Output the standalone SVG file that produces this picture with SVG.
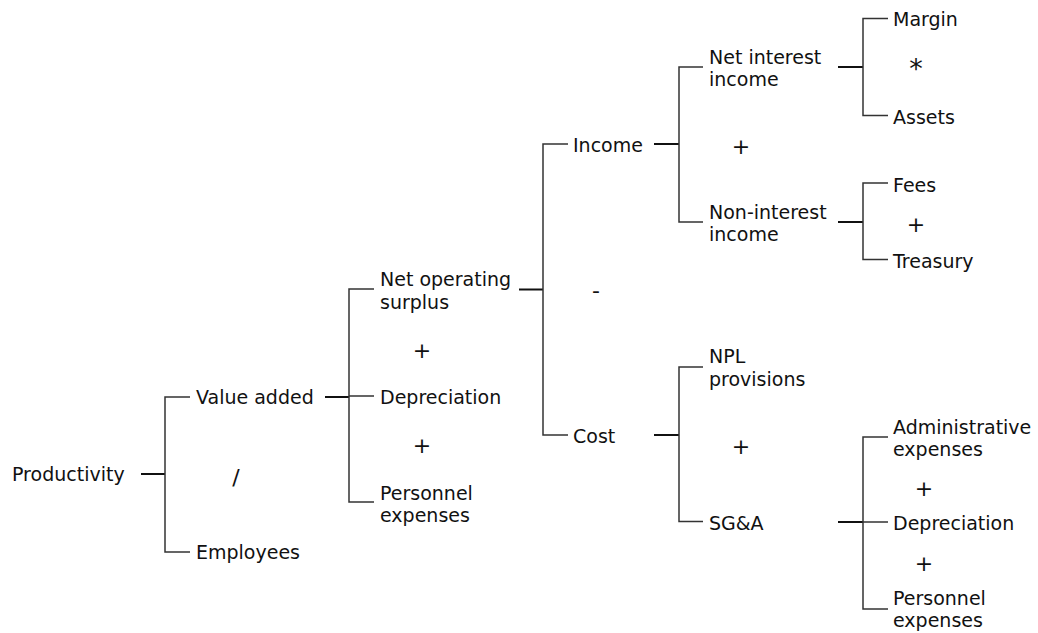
<svg xmlns="http://www.w3.org/2000/svg" width="1038" height="633" viewBox="0 0 1038 633">
<style>
text{font-family:"DejaVu Sans","Noto Sans",sans-serif;font-size:19px;fill:#111}
text.op{text-anchor:middle;font-size:22px}
text.ast{font-size:27px}
.br{fill:none;stroke:#333;stroke-width:1.5}
.pl{fill:none;stroke:#111;stroke-width:2}
</style>
<rect width="1038" height="633" fill="#fff"/>
<g id="connectors">
<path class="pl" d="M141,474H165"/>
<path class="br" d="M190,397H165V552H190"/>
<path class="pl" d="M325,397H349"/>
<path class="br" d="M374,289H349V502H374M349,396H374"/>
<path class="pl" d="M519,289.5H543"/>
<path class="br" d="M568,144H543V435H568"/>
<path class="pl" d="M654,144H679"/>
<path class="br" d="M703,67H679V222H703"/>
<path class="pl" d="M838,67H863"/>
<path class="br" d="M888,18.5H863V115.5H888"/>
<path class="pl" d="M838,222H863"/>
<path class="br" d="M888,183H863V259.5H888"/>
<path class="pl" d="M654,435H679"/>
<path class="br" d="M703,367H679V521.5H703"/>
<path class="pl" d="M838,522H863"/>
<path class="br" d="M888,437H863V609H888M863,522H888"/>
</g>
<g id="productivity"><text x="12" y="481">Productivity</text></g>
<g id="op-div"><text class="op" x="236" y="485">/</text></g>
<g id="value-added"><text x="196" y="404">Value added</text></g>
<g id="employees"><text x="196" y="559">Employees</text></g>
<g id="net-operating-surplus"><text x="380" y="286">Net operating</text><text x="380" y="308.5">surplus</text></g>
<g id="op-plus-1"><text class="op" x="422" y="358.4">+</text></g>
<g id="depreciation-1"><text x="380" y="404">Depreciation</text></g>
<g id="op-plus-2"><text class="op" x="422" y="453.4">+</text></g>
<g id="personnel-expenses-1"><text x="380" y="499.5">Personnel</text><text x="380" y="522">expenses</text></g>
<g id="income"><text x="573" y="152">Income</text></g>
<g id="op-minus"><text class="op" x="596" y="297.7">-</text></g>
<g id="cost"><text x="573" y="443">Cost</text></g>
<g id="net-interest-income"><text x="709" y="63.5">Net interest</text><text x="709" y="86">income</text></g>
<g id="op-plus-3"><text class="op" x="741" y="154.4">+</text></g>
<g id="non-interest-income"><text x="709" y="218.5">Non-interest</text><text x="709" y="241">income</text></g>
<g id="margin"><text x="893" y="26">Margin</text></g>
<g id="op-mul"><text class="op ast" x="916" y="78">*</text></g>
<g id="assets"><text x="893" y="123.5">Assets</text></g>
<g id="fees"><text x="893" y="191.5">Fees</text></g>
<g id="op-plus-4"><text class="op" x="916" y="232">+</text></g>
<g id="treasury"><text x="893" y="268">Treasury</text></g>
<g id="npl-provisions"><text x="709" y="362.5">NPL</text><text x="709" y="385.5">provisions</text></g>
<g id="op-plus-5"><text class="op" x="741" y="454.4">+</text></g>
<g id="sga"><text x="709" y="529.5">SG&amp;A</text></g>
<g id="administrative-expenses"><text x="893" y="433.5">Administrative</text><text x="893" y="456">expenses</text></g>
<g id="op-plus-6"><text class="op" x="924" y="496">+</text></g>
<g id="depreciation-2"><text x="893" y="530">Depreciation</text></g>
<g id="op-plus-7"><text class="op" x="924" y="571">+</text></g>
<g id="personnel-expenses-2"><text x="893" y="604.5">Personnel</text><text x="893" y="627">expenses</text></g>
</svg>
